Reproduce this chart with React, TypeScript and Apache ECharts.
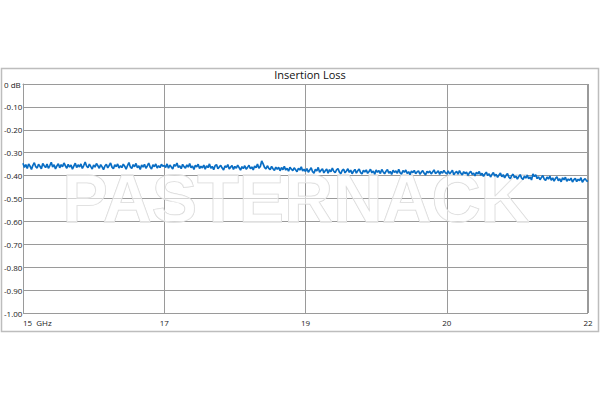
import React, { useEffect, useRef } from "react";
import * as echarts from "echarts";

const title = "Insertion Loss";
const xTickLabels = ["15  GHz", "17", "19", "20", "22"];
const watermark = "PASTERNACK";

// Insertion loss (dB), 401 samples spanning the 4 axis divisions
const lossDb = [
  -0.346,-0.364,-0.352,-0.369,-0.349,-0.359,-0.373,-0.355,-0.344,-0.361,
  -0.367,-0.351,-0.359,-0.370,-0.347,-0.357,-0.365,-0.350,-0.368,-0.356,
  -0.342,-0.362,-0.353,-0.371,-0.358,-0.348,-0.366,-0.352,-0.361,-0.345,
  -0.357,-0.368,-0.351,-0.363,-0.354,-0.372,-0.359,-0.346,-0.365,-0.353,
  -0.362,-0.349,-0.369,-0.356,-0.341,-0.358,-0.366,-0.350,-0.361,-0.371,
  -0.354,-0.363,-0.347,-0.357,-0.368,-0.352,-0.362,-0.374,-0.358,-0.351,
  -0.366,-0.356,-0.345,-0.363,-0.370,-0.353,-0.361,-0.349,-0.367,-0.357,
  -0.365,-0.350,-0.359,-0.372,-0.356,-0.343,-0.362,-0.369,-0.352,-0.361,
  -0.347,-0.366,-0.357,-0.373,-0.354,-0.363,-0.351,-0.368,-0.358,-0.345,
  -0.362,-0.371,-0.353,-0.361,-0.349,-0.367,-0.357,-0.365,-0.351,-0.359,
  -0.356,
  -0.364,-0.349,-0.368,-0.354,-0.362,-0.371,-0.352,-0.359,-0.345,-0.365,
  -0.357,-0.370,-0.351,-0.361,-0.367,-0.353,-0.363,-0.347,-0.366,-0.358,
  -0.373,-0.355,-0.362,-0.350,-0.369,-0.359,-0.366,-0.354,-0.372,-0.357,
  -0.365,-0.349,-0.368,-0.360,-0.374,-0.357,-0.352,-0.370,-0.362,-0.355,
  -0.367,-0.375,-0.358,-0.364,-0.352,-0.371,-0.363,-0.356,-0.373,-0.360,
  -0.368,-0.354,-0.365,-0.376,-0.361,-0.369,-0.357,-0.372,-0.364,-0.355,
  -0.370,-0.362,-0.375,-0.358,-0.366,-0.350,-0.368,-0.360,-0.336,-0.349,
  -0.364,-0.371,-0.357,-0.368,-0.374,-0.360,-0.370,-0.377,-0.363,-0.372,
  -0.364,-0.379,-0.365,-0.374,-0.359,-0.376,-0.368,-0.381,-0.364,-0.372,
  -0.378,-0.366,-0.374,-0.383,-0.368,-0.376,-0.362,-0.380,-0.372,-0.382,
  -0.369,-0.385,-0.376,-0.366,-0.383,-0.389,-0.373,-0.380,-0.364,-0.386,
  -0.377,-0.370,-0.388,-0.379,-0.371,-0.390,-0.374,-0.383,-0.367,-0.381,
  -0.387,-0.375,-0.369,-0.385,-0.391,-0.377,-0.372,-0.388,-0.380,-0.370,
  -0.386,-0.376,-0.392,-0.381,-0.373,-0.389,-0.379,-0.371,-0.387,-0.393,
  -0.377,-0.384,-0.375,-0.390,-0.382,-0.372,-0.388,-0.380,-0.394,-0.376,
  -0.385,-0.378,-0.391,-0.373,-0.384,-0.392,-0.381,-0.374,-0.389,-0.382,
  -0.395,-0.377,-0.386,-0.379,-0.390,-0.372,-0.388,-0.393,-0.378,-0.385,
  -0.376,-0.391,-0.383,-0.396,-0.380,-0.387,-0.377,-0.392,-0.384,-0.379,
  -0.394,-0.385,-0.378,-0.390,-0.397,-0.381,-0.388,-0.380,-0.393,-0.384,
  -0.375,-0.391,-0.386,-0.379,-0.395,-0.382,-0.389,-0.377,-0.387,-0.392,
  -0.379,-0.393,-0.385,-0.377,-0.396,-0.387,-0.382,-0.394,-0.378,-0.390,
  -0.397,-0.383,-0.391,-0.385,-0.399,-0.388,-0.381,-0.395,-0.389,-0.401,
  -0.386,-0.393,-0.382,-0.398,-0.390,-0.403,-0.393,-0.385,-0.400,-0.392,
  -0.406,-0.395,-0.387,-0.402,-0.394,-0.408,-0.397,-0.389,-0.405,-0.396,
  -0.410,-0.399,-0.391,-0.407,-0.413,-0.400,-0.394,-0.409,-0.402,-0.415,
  -0.404,-0.396,-0.411,-0.417,-0.402,-0.411,-0.398,-0.414,-0.406,-0.419,
  -0.393,-0.404,-0.397,-0.413,-0.405,-0.418,-0.408,-0.400,-0.415,-0.421,
  -0.406,-0.415,-0.402,-0.420,-0.410,-0.424,-0.412,-0.405,-0.422,-0.414,
  -0.427,-0.410,-0.418,-0.407,-0.425,-0.415,-0.421,-0.411,-0.428,-0.418,
  -0.412,-0.426,-0.416,-0.422,-0.409,-0.429,-0.419,-0.413,-0.423,-0.425,
];

const samplesPerDivision = 100;

export default function App() {
  const ref = useRef<HTMLDivElement>(null);
  useEffect(() => {
    document.body.style.margin = "0";
    const chart = echarts.init(ref.current!, null, { renderer: "svg" });
    const data = lossDb.map((v, i) => [i / samplesPerDivision, v]);
    const gridColor = "#9a9a9a";
    const labelFont = "'Open Sans', 'Liberation Sans', sans-serif";
    chart.setOption({
      animation: false,
      backgroundColor: "#ffffff",
      title: {
        text: title,
        left: 305,
        top: 64,
        textAlign: "center",
        textStyle: { fontSize: 11, fontWeight: "normal", color: "#111", fontFamily: labelFont },
      },
      grid: { left: 23, right: 12, top: 84, bottom: 87 },
      xAxis: {
        type: "value",
        min: 0,
        max: 4,
        interval: 1,
        axisLine: { show: true, lineStyle: { color: gridColor, width: 1 } },
        axisTick: { show: false },
        splitLine: { show: true, lineStyle: { color: gridColor, width: 1 } },
        axisLabel: {
          formatter: (v: number) => xTickLabels[Math.round(v)] ?? "",
          fontSize: 8,
          color: "#222",
          margin: 5,
          fontFamily: labelFont,
          alignMinLabel: "left",
          showMinLabel: true,
          showMaxLabel: true,
        },
      },
      yAxis: {
        type: "value",
        min: -1,
        max: 0,
        interval: 0.1,
        axisLine: { show: true, lineStyle: { color: gridColor, width: 1 } },
        axisTick: { show: false },
        splitLine: { show: true, lineStyle: { color: gridColor, width: 1 } },
        axisLabel: {
          formatter: (v: number) => (Math.abs(v) < 1e-9 ? "0 dB" : v.toFixed(2)),
          fontSize: 8,
          color: "#222",
          align: "left",
          margin: 19,
          fontFamily: labelFont,
        },
      },
      graphic: [
        {
          type: "rect",
          shape: { x: 1.5, y: 68.5, width: 597, height: 263 },
          style: { fill: "none", stroke: "#bdbdbd", lineWidth: 1.5 },
          z: 0,
        },
        {
          type: "rect",
          shape: { x: 587.5, y: 84, width: 0.1, height: 229 },
          style: { fill: "none", stroke: gridColor, lineWidth: 1 },
          z: 1,
        },
        {
          type: "text",
          x: 296,
          y: 198,
          z: 1,
          style: {
            text: watermark,
            font: "bold 68px 'Liberation Sans', Arial, sans-serif",
            fill: "rgba(255,255,255,0.55)",
            stroke: "#d4d4d4",
            lineWidth: 1,
            textAlign: "center",
            textVerticalAlign: "middle",
          },
        },
      ],
      series: [
        {
          type: "line",
          data,
          showSymbol: false,
          z: 5,
          lineStyle: { color: "#0a6ec4", width: 1.7 },
        },
      ],
    });
    return () => chart.dispose();
  }, []);
  return <div ref={ref} style={{ width: 600, height: 400 }} />;
}
